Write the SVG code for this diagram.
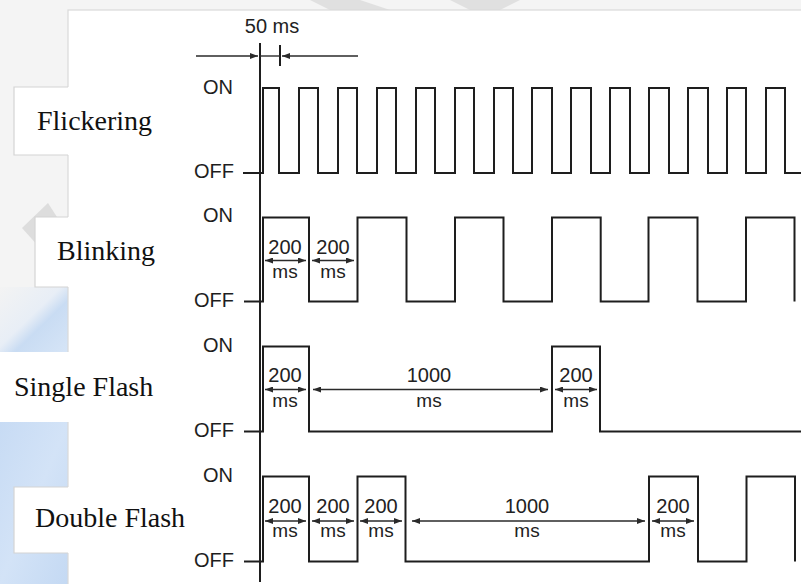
<svg xmlns="http://www.w3.org/2000/svg" width="801" height="584" viewBox="0 0 801 584">
  <style>
    .wave { fill: none; stroke: #1e1e1e; stroke-width: 2; stroke-linejoin: miter; }
    .axis { fill: none; stroke: #1e1e1e; stroke-width: 2; }
    .dim { fill: none; stroke: #2a2a2a; stroke-width: 1.4; marker-start: url(#ah); marker-end: url(#ah); }
    .lvl { font-family: "Liberation Sans", Arial, sans-serif; font-size: 20px; fill: #1e1e1e; }
    .num { font-family: "Liberation Sans", Arial, sans-serif; font-size: 20px; fill: #222; text-anchor: middle; }
    .ms { font-family: "Liberation Sans", Arial, sans-serif; font-size: 19px; fill: #222; text-anchor: middle; }
    .name { font-family: "Liberation Serif", "Times New Roman", serif; font-size: 28px; fill: #111; }
    .edge { fill: none; stroke: #d4d4d4; stroke-width: 1.2; }
    .page { fill: #ffffff; stroke: #d9d9d9; stroke-width: 1.2; }
    .box { fill: #ffffff; stroke: none; }
  </style>
  <defs>
    <marker id="ah" viewBox="0 0 8 6" refX="8" refY="3" markerWidth="8" markerHeight="6" markerUnits="userSpaceOnUse" orient="auto-start-reverse">
      <path d="M0,0 L8,3 L0,6 z" fill="#2a2a2a"/>
    </marker>
    <linearGradient id="blue1" x1="0" y1="0" x2="1" y2="1">
      <stop offset="0" stop-color="#f3f3f3"/>
      <stop offset="0.45" stop-color="#e8eef6"/>
      <stop offset="0.6" stop-color="#c9dcf3"/>
      <stop offset="1" stop-color="#d6e5f7"/>
    </linearGradient>
    <linearGradient id="blue2" x1="0" y1="0" x2="1" y2="1">
      <stop offset="0" stop-color="#c7dbf4"/>
      <stop offset="0.5" stop-color="#d3e3f7"/>
      <stop offset="1" stop-color="#c4d9f3"/>
    </linearGradient>
  </defs>

  <!-- background -->
  <g id="background">
    <rect x="0" y="0" width="801" height="584" fill="#f4f4f4"/>
    <polygon points="310,0 360,0 390,10 330,10" fill="#e0e0e0"/>
    <polygon points="450,0 520,0 500,10 470,10" fill="#e0e0e0"/>
    <polygon points="22,228 48,203 64,228 40,248" fill="#dddddd"/>
    <rect x="0" y="287" width="68" height="66" fill="url(#blue1)"/>
    <rect x="0" y="422" width="68" height="162" fill="url(#blue2)"/>
    <rect class="page" x="68" y="10" width="740" height="580"/>
    <rect class="box" x="0" y="352" width="69" height="70"/>
  </g>

  <g id="label-flickering">
    <rect class="box" x="14" y="87" width="180" height="68"/>
    <path class="edge" d="M68,87 H14 V155 H68"/>
    <text class="name" x="37" y="130">Flickering</text>
  </g>
  <g id="label-blinking">
    <rect class="box" x="35" y="217" width="155" height="70"/>
    <path class="edge" d="M68,217 H35 V287 H68"/>
    <text class="name" x="57" y="260">Blinking</text>
  </g>
  <g id="label-single">
    <text class="name" x="14" y="396">Single Flash</text>
  </g>
  <g id="label-double">
    <rect class="box" x="14" y="487" width="176" height="66"/>
    <path class="edge" d="M68,487 H14 V553 H68"/>
    <text class="name" x="35" y="527">Double Flash</text>
  </g>

  <!-- time axis and scale -->
  <g id="axis">
    <line class="axis" x1="260" y1="43" x2="260" y2="582"/>
    <line class="axis" x1="280" y1="45" x2="280" y2="66" stroke-width="1.5"/>
    <text class="num" x="272" y="33">50 ms</text>
  </g>

  <g id="row-flickering">
    <text class="lvl" x="203" y="94">ON</text>
    <text class="lvl" x="194" y="178">OFF</text>
    <path class="wave" d="M243,173H263V88H279V173H299V88H318V173H338V88H357V173H377V88H396V173H416V88H435V173H455V88H474V173H494V88H513V173H532V88H552V173H571V88H591V173H610V88H630V173H649V88H669V173H688V88H708V173H727V88H746V173H766V88H785V173H801"/>
  </g>

  <g id="row-blinking">
    <text class="lvl" x="203" y="222">ON</text>
    <text class="lvl" x="194" y="307">OFF</text>
    <path class="wave" d="M244,301.5H263V217.5H309V301.5H357.5V217.5H406.5V301.5H455V217.5H503.5V301.5H552V217.5H600.7V301.5H648.5V217.5H697.5V301.5H746V217.5H794.5V301.5"/>
    <text class="num" x="285" y="254">200</text>
    <text class="ms" x="285" y="278">ms</text>
    <text class="num" x="333" y="254">200</text>
    <text class="ms" x="333" y="278">ms</text>
  </g>

  <g id="row-single">
    <text class="lvl" x="203" y="352">ON</text>
    <text class="lvl" x="194" y="437">OFF</text>
    <path class="wave" d="M244,431.5H263V346.5H309V431.5H552V346.5H600V431.5H801"/>
    <text class="num" x="285" y="382">200</text>
    <text class="ms" x="285" y="407">ms</text>
    <text class="num" x="429" y="382">1000</text>
    <text class="ms" x="429" y="407">ms</text>
    <text class="num" x="576" y="382">200</text>
    <text class="ms" x="576" y="407">ms</text>
  </g>

  <g id="row-double">
    <text class="lvl" x="203" y="482">ON</text>
    <text class="lvl" x="194" y="567">OFF</text>
    <path class="wave" d="M244,561.5H263V476.5H309V561.5H357.5V476.5H405.5V561.5H649V476.5H698V561.5H746.5V476.5H795V561.5"/>
    <text class="num" x="285" y="513">200</text>
    <text class="ms" x="285" y="537">ms</text>
    <text class="num" x="333" y="513">200</text>
    <text class="ms" x="333" y="537">ms</text>
    <text class="num" x="381" y="513">200</text>
    <text class="ms" x="381" y="537">ms</text>
    <text class="num" x="527" y="513">1000</text>
    <text class="ms" x="527" y="537">ms</text>
    <text class="num" x="673" y="513">200</text>
    <text class="ms" x="673" y="537">ms</text>
  </g>

  <g id="connectors">
    <line x1="196" y1="56" x2="258" y2="56" stroke="#2a2a2a" stroke-width="1.4" marker-end="url(#ah)"/>
    <line x1="260" y1="56" x2="280" y2="56" stroke="#2a2a2a" stroke-width="1.4"/>
    <line x1="358" y1="56" x2="282" y2="56" stroke="#2a2a2a" stroke-width="1.4" marker-end="url(#ah)"/>
    <line class="dim" x1="265" y1="260.5" x2="306" y2="260.5"/>
    <line class="dim" x1="312" y1="260.5" x2="354" y2="260.5"/>
    <line class="dim" x1="265" y1="389.5" x2="306" y2="389.5"/>
    <line class="dim" x1="313" y1="389.5" x2="548" y2="389.5"/>
    <line class="dim" x1="555" y1="389.5" x2="597" y2="389.5"/>
    <line class="dim" x1="265" y1="521" x2="306" y2="521"/>
    <line class="dim" x1="312" y1="521" x2="354" y2="521"/>
    <line class="dim" x1="360" y1="521" x2="402" y2="521"/>
    <line class="dim" x1="412" y1="521" x2="645" y2="521"/>
    <line class="dim" x1="652" y1="521" x2="694" y2="521"/>
  </g>
</svg>
